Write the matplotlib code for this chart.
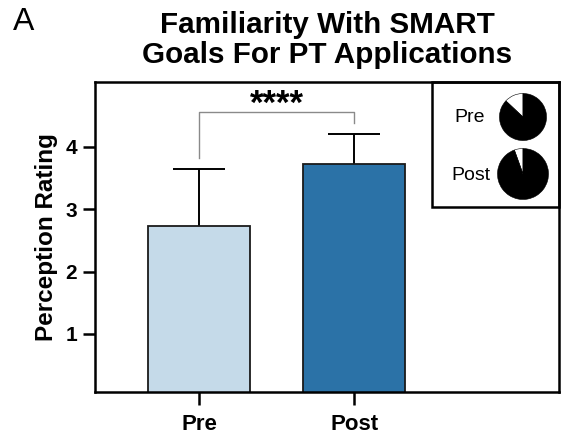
import matplotlib
matplotlib.use("Agg")
import matplotlib.pyplot as plt
from matplotlib.patches import Rectangle

plt.rcParams['font.family'] = ['Liberation Sans', 'DejaVu Sans']

categories = ["Pre", "Post"]
means = [2.73, 3.73]
sd = [0.92, 0.48]
bar_colors = ["#c5dae9", "#2b72a7"]
yticks = [1, 2, 3, 4]
pie_labels = ["Pre", "Post"]
pie_white = [0.13, 0.055]   # fraction not familiar
pie_black = [0.87, 0.945]
bracket_y = 4.56
bracket_legs = [3.82, 4.38]
sig_text = "****"

W, H = 561, 434
fig = plt.figure(figsize=(W/100, H/100), dpi=100)
ax = fig.add_axes([95/W, 1-392/H, (559-95)/W, (392-82)/H])

x = list(range(len(categories)))
ax.bar(x, means, width=0.66, color=bar_colors, edgecolor="#1a1a1a", linewidth=1.3, zorder=2)
tops = [m + s for m, s in zip(means, sd)]
ax.vlines(x, means, tops, color="black", lw=1.4, zorder=1)
ax.plot(x, tops, ls="none", marker="_", ms=38, mew=1.4, color="black", zorder=1)

ax.set_xlim(-0.671, 2.32)
ax.set_ylim(0.07, 5.04)
ax.set_yticks(yticks)
ax.set_xticks(x)
ax.set_xticklabels(categories, fontsize=16, fontweight="bold")
ax.set_yticklabels([str(t) for t in yticks], fontsize=15, fontweight="bold")
ax.tick_params(axis="y", length=9, width=1.8, pad=4)
ax.tick_params(axis="x", length=9, width=1.8, pad=6.5)
for s in ax.spines.values():
    s.set_linewidth(1.8)
ax.set_ylabel("Perception Rating", fontsize=17.5, fontweight="bold", labelpad=5)
ax.set_title("Familiarity With SMART\nGoals For PT Applications", fontsize=21.3,
             fontweight="bold", pad=14, linespacing=1.05)

# significance bracket
ax.plot([x[0], x[0], x[1], x[1]], [bracket_legs[0], bracket_y, bracket_y, bracket_legs[1]],
        color="#8a8a8a", lw=1.0, zorder=3)
ax.text((x[0]+x[1])/2, bracket_y - 0.15, sig_text, ha="center", va="bottom",
        fontsize=25, fontweight="bold")

# inset box
ax.add_patch(Rectangle((0.726, 0.597), 1-0.726, 0.403, transform=ax.transAxes,
                       fill=False, lw=1.8, edgecolor="black", clip_on=False, zorder=5))

centers = [(523, 117, 24), (523, 174, 26)]
label_pos = [(470, 118), (471, 175)]
for i, (cx, cy, r) in enumerate(centers):
    pax = fig.add_axes([(cx-r)/W, 1-(cy+r)/H, 2*r/W, 2*r/H])
    pax.pie([pie_white[i], pie_black[i]], colors=["white", "black"], startangle=90,
            counterclock=True, radius=1, wedgeprops=dict(edgecolor="black", linewidth=0.4))
    pax.set_xlim(-1.02, 1.02)
    pax.set_ylim(-1.02, 1.02)
    pax.axis("off")
    lx, ly = label_pos[i]
    fig.text(lx/W, 1-ly/H, pie_labels[i], ha="center", va="center", fontsize=14)

fig.text(13/W, 1-22/H, "A", ha="left", va="center", fontsize=23)

fig.savefig("out.png", dpi=100)
